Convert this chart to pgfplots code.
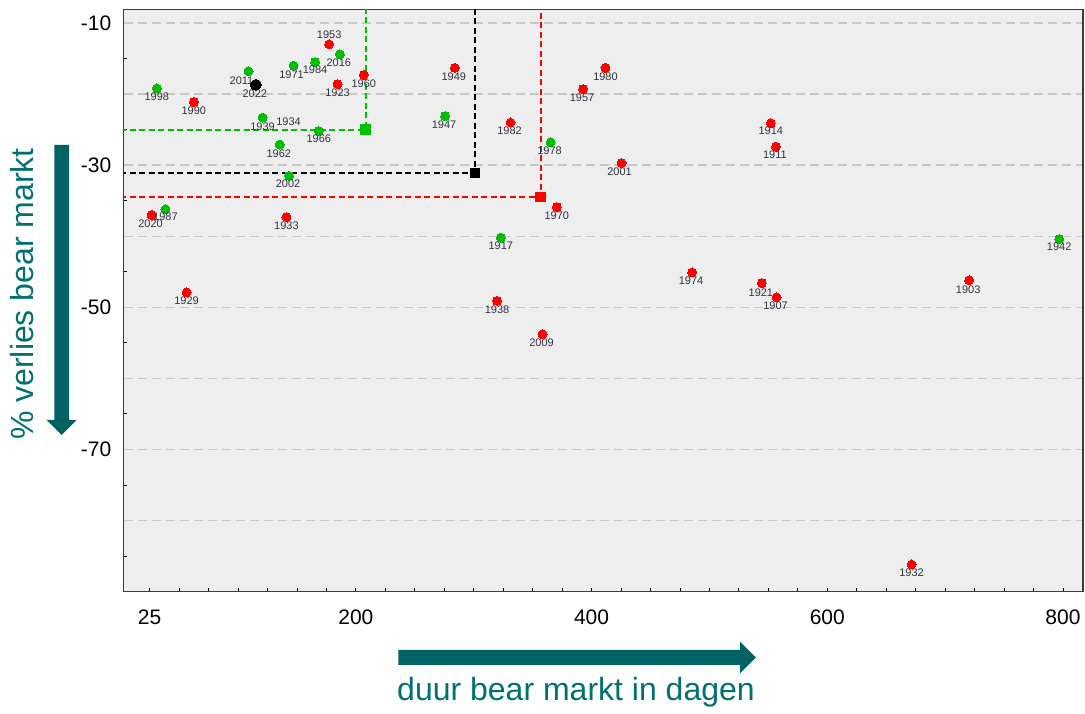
\documentclass[border=0pt]{standalone}
\usepackage{fontspec}
\setmainfont{Liberation Sans}
\usepackage{pgfplots}
\usepackage{pgfplotstable}
\pgfplotsset{compat=1.18}

\definecolor{bggray}{RGB}{238,238,238}
\definecolor{gridgray}{RGB}{200,200,200}
\definecolor{axgray}{RGB}{60,60,60}
\definecolor{ptred}{RGB}{255,0,0}
\definecolor{ptgreen}{RGB}{0,190,0}
\definecolor{labgray}{RGB}{50,50,64}
\definecolor{tealtxt}{RGB}{0,112,112}
\definecolor{tealarrow}{RGB}{0,98,98}

\pgfplotstableread{
x y lab dx dy
177.3 -13.0 1953 0 9.3
206.7 -17.3 1960 0 -8.5
184.4 -18.6 1923 0 -8.5
62.5 -21.1 1990 0 -8.5
26.6 -37.0 2020 -1 -8.5
141.1 -37.3 1933 0 -8.5
56.3 -47.9 1929 0 -8.5
283.9 -16.3 1949 -1 -8.5
411.8 -16.3 1980 0 -8.5
392.8 -19.3 1957 -1 -8.5
331.2 -24.0 1982 -1 -8.5
425.4 -29.7 2001 -2 -8.5
370.5 -35.9 1970 0 -8.5
319.8 -49.1 1938 0 -8.5
358.4 -53.8 2009 -1 -8.5
552.1 -24.1 1914 0 -8.0
556.4 -27.4 1911 -1 -8.0
485.3 -45.1 1974 -1 -8.5
544.5 -46.6 1921 -1 -9.3
557.0 -48.6 1907 -1 -8.0
720.4 -46.2 1903 -1 -9.0
671.5 -86.2 1932 0 -8.0
}\redpts

\pgfplotstableread{
x y lab dx dy
186.4 -14.4 2016 -1 -8.0
165.4 -15.5 1984 0 -8.0
147.1 -16.0 1971 -2 -8.7
108.9 -16.8 2011 -7 -9.0
31.1 -19.2 1998 0 -8.3
120.8 -23.3 1939 0 -9.0
120.8 -23.3 1934 26 -4.3
168.5 -25.2 1966 0 -7.7
135.4 -27.1 1962 -1 -8.7
143.3 -31.5 2002 -1 -8.0
38.4 -36.2 1987 0 -8.0
275.7 -23.1 1947 -1 -8.7
365.2 -26.8 1978 -1 -8.7
323.0 -40.2 1917 0 -8.0
796.8 -40.4 1942 0 -7.7
}\greenpts

\pgfplotstableread{
x y lab dx dy
115.1 -18.7 2022 -1 -9.0
}\blackpts

\begin{document}
\begin{tikzpicture}
\useasboundingbox (0pt,0pt) rectangle (1085pt,714pt);

\begin{axis}[
  at={(123.5pt,122.5pt)}, anchor=south west,
  scale only axis,
  width=959.5pt, height=582.2pt,
  xmin=2.8, xmax=817,
  ymin=-90, ymax=-8.07,
  axis background/.style={fill=bggray},
  axis line style={draw=axgray, line width=1.5pt},
  xtick={25,200,400,600,800},
  xticklabels={25,200,400,600,800},
  minor xtick={25,50,...,800},
  ytick={-80,-70,...,-10},
  yticklabels={{},-70,{},-50,{},-30,{},-10},
  minor ytick={-85,-75,...,-15},
  major tick length=0pt,
  minor tick length=3pt,
  tick style={black, line width=0.8pt},
  xtick pos=left, ytick pos=left,
  tick align=inside,
  ymajorgrids=true,
  major grid style={gridgray, line width=1.3pt, dash pattern=on 9pt off 5pt},
  xticklabel style={font=\fontsize{21}{25}\selectfont, inner sep=0pt, anchor=north, yshift=-18pt},
  yticklabel style={font=\fontsize{21}{25}\selectfont, inner sep=0pt, anchor=east, xshift=-12pt},
  clip=true,
]
% reference lines
\addplot[draw=ptgreen, line width=2pt, dash pattern=on 6pt off 3.5pt] coordinates {(0,-25.0) (208.2,-25.0) (208.2,-8)};
\addplot[draw=black, line width=2pt, dash pattern=on 6pt off 3.5pt] coordinates {(0,-31.1) (301.2,-31.1) (301.2,-8)};
\addplot[draw=ptred, line width=2pt, dash pattern=on 6pt off 3.5pt] coordinates {(0,-34.5) (356.7,-34.5) (356.7,-8)};
\addplot[color=ptgreen, only marks, mark=square*, mark size=4.6pt, mark options={solid, draw=ptgreen, fill=ptgreen, line width=0pt}] coordinates {(208.2,-25.0)};
\addplot[color=black, only marks, mark=square*, mark size=4.6pt, mark options={solid, draw=black, fill=black, line width=0pt}] coordinates {(301.2,-31.1)};
\addplot[color=ptred, only marks, mark=square*, mark size=4.6pt, mark options={solid, draw=ptred, fill=ptred, line width=0pt}] coordinates {(356.7,-34.5)};

% points
\pgfplotsset{
  lbl/.style={
    nodes near coords,
    point meta=explicit symbolic,
    visualization depends on={\thisrow{dx} \as \dx},
    visualization depends on={\thisrow{dy} \as \dy},
    every node near coord/.append style={anchor=center, inner sep=0pt,
      xshift=\dx pt, yshift=\dy pt, text=labgray,
      font=\fontsize{11}{13}\selectfont},
  }
}
\addplot[color=ptred, only marks, mark=*, mark size=4.5pt, mark options={draw=ptred, fill=ptred, line width=0pt}, lbl]
  table[x=x, y=y, meta=lab] {\redpts};
\addplot[color=ptgreen, only marks, mark=*, mark size=4.5pt, mark options={draw=ptgreen, fill=ptgreen, line width=0pt}, lbl]
  table[x=x, y=y, meta=lab] {\greenpts};
\addplot[color=black, only marks, mark=*, mark size=5.4pt, mark options={draw=black, fill=black, line width=0pt}, lbl]
  table[x=x, y=y, meta=lab] {\blackpts};
\end{axis}

% axis titles and arrows
\node[rotate=90, anchor=base, text=tealtxt, inner sep=0pt, font=\fontsize{32}{38}\selectfont] at (33pt,420pt) {\% verlies bear markt};
\node[anchor=base, text=tealtxt, inner sep=0pt, font=\fontsize{32}{38}\selectfont] at (576pt,13.5pt) {duur bear markt in dagen};
\fill[tealarrow] (54.3pt,569pt) -- (69pt,569pt) -- (69pt,294pt) -- (76.7pt,294pt) -- (61.7pt,279pt) -- (46.7pt,294pt) -- (54.3pt,294pt) -- cycle;
\fill[tealarrow] (398.3pt,49pt) -- (740pt,49pt) -- (740pt,40.7pt) -- (756pt,56.5pt) -- (740pt,72.3pt) -- (740pt,64pt) -- (398.3pt,64pt) -- cycle;
\end{tikzpicture}
\end{document}
